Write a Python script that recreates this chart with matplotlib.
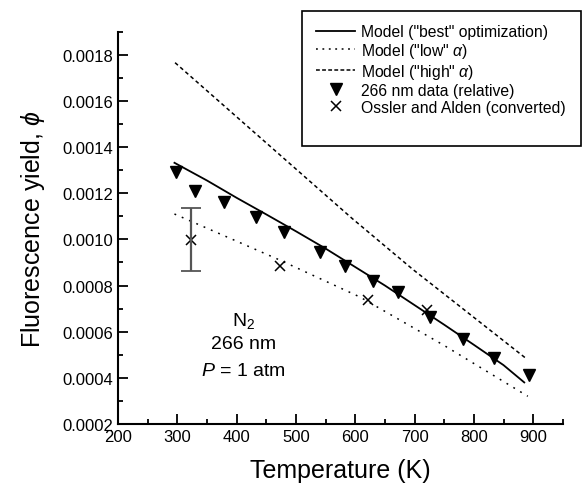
import matplotlib.pyplot as plt
from matplotlib.ticker import MultipleLocator, FormatStrFormatter
from matplotlib.lines import Line2D
from matplotlib.patches import Rectangle

plt.rcParams['font.family'] = ['Liberation Sans', 'DejaVu Sans']
plt.rcParams['mathtext.fontset'] = 'custom'
plt.rcParams['mathtext.it'] = 'Liberation Sans:italic'
plt.rcParams['mathtext.rm'] = 'Liberation Sans'

# data set
data_T = [298, 330, 379, 433, 480, 541, 583, 630, 672, 726, 782, 834, 893]
data_phi = [0.001293, 0.001211, 0.001163, 0.001098, 0.001033, 0.000946, 0.000885,
            0.000820, 0.000773, 0.000664, 0.000569, 0.000486, 0.000413]

ossler_T = [323, 473, 622, 721]
ossler_phi = [0.000998, 0.000885, 0.000738, 0.000695]
ossler_err = [0.000136, 0, 0, 0]

best_T = [295, 350, 400, 450, 500, 550, 600, 650, 700, 750, 800, 850, 885]
best_phi = [0.001332, 0.001255, 0.00118, 0.001108, 0.001035, 0.00096, 0.00088,
            0.0008, 0.000715, 0.00063, 0.000543, 0.000455, 0.00038]

low_T = [295, 473, 608, 750, 891]
low_phi = [0.00111, 0.00091, 0.00075, 0.00054, 0.00032]

high_T = [296, 595, 697, 890]
high_phi = [0.001766, 0.00109, 0.00087, 0.00048]

fig = plt.figure(figsize=(5.82, 4.89), dpi=100)
ax = fig.add_axes([0.203, 0.131, 0.764, 0.802])

ax.plot(best_T, best_phi, color='black', lw=1.3, linestyle='-')
ax.plot(low_T, low_phi, color='black', lw=1.1, linestyle=(0, (1.2, 4)))
ax.plot(high_T, high_phi, color='black', lw=1.1, linestyle=(0, (2.5, 2)))
ax.plot(data_T, data_phi, linestyle='none', marker='v', color='black', markersize=9)
ax.plot(ossler_T, ossler_phi, linestyle='none', marker='x', color='black',
        markersize=7, markeredgewidth=1.1)
ax.errorbar(ossler_T[:1], ossler_phi[:1], yerr=ossler_err[:1], fmt='none',
            ecolor='#555555', elinewidth=1.6, capsize=7, capthick=1.3)

ax.set_xlim(200, 950)
ax.set_ylim(0.0002, 0.0019)
ax.xaxis.set_major_locator(MultipleLocator(100))
ax.xaxis.set_minor_locator(MultipleLocator(50))
ax.yaxis.set_major_locator(MultipleLocator(0.0002))
ax.yaxis.set_minor_locator(MultipleLocator(0.0001))
ax.yaxis.set_major_formatter(FormatStrFormatter('%.4f'))
ax.tick_params(which='both', direction='in', labelsize=12, width=1.3)
ax.tick_params(which='major', length=7)
ax.tick_params(which='minor', length=3.5)
ax.spines['top'].set_visible(False)
ax.spines['right'].set_visible(False)
ax.spines['left'].set_linewidth(1.5)
ax.spines['bottom'].set_linewidth(1.5)

ax.set_xlabel('Temperature (K)', fontsize=18, labelpad=10)
ax.set_ylabel(r'Fluorescence yield, $\phi$', fontsize=18, labelpad=11)

ax.text(411, 0.00065, r'N$_2$', ha='center', va='center', fontsize=14)
ax.text(411, 0.00055, '266 nm', ha='center', va='center', fontsize=14)
ax.text(411, 0.00043, r'$P$ = 1 atm', ha='center', va='center', fontsize=14)

handles = [
    Line2D([], [], color='black', lw=1.3, linestyle='-'),
    Line2D([], [], color='black', lw=1.1, linestyle=(0, (1.2, 3))),
    Line2D([], [], color='black', lw=1.1, linestyle=(0, (2.5, 1.5))),
    Line2D([], [], linestyle='none', marker='v', color='black', markersize=9),
    Line2D([], [], linestyle='none', marker='x', color='black', markersize=7,
           markeredgewidth=1.1),
]
labels = ['Model ("best" optimization)', r'Model ("low" $\alpha$)',
          r'Model ("high" $\alpha$)', '266 nm data (relative)',
          'Ossler and Alden (converted)']
fig.legend(handles, labels, loc='upper left', bbox_to_anchor=(316 / 582, 1 - 25 / 489),
           bbox_transform=fig.transFigure, frameon=False, fontsize=11.3,
           handlelength=2.5, handletextpad=0.35, labelspacing=0.12, borderpad=0,
           borderaxespad=0)
fig.patches.append(Rectangle((302 / 582, 1 - 147 / 489), 279 / 582, 135 / 489,
                             transform=fig.transFigure, fill=False,
                             edgecolor='black', lw=1.2))

plt.savefig('out.png', dpi=100)
